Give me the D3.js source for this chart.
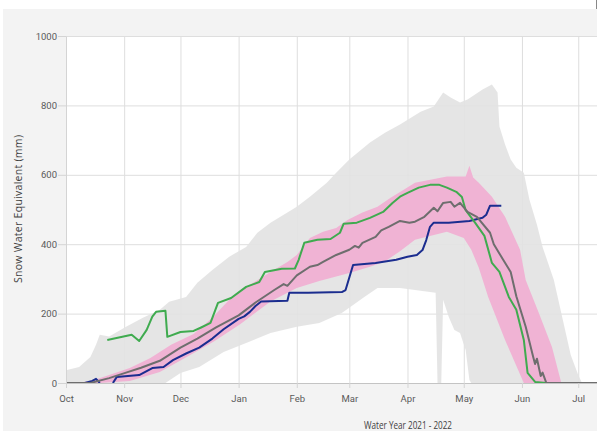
<!DOCTYPE html>
<html>
<head>
<meta charset="utf-8">
<script src="https://cdn.jsdelivr.net/npm/d3@7"></script>
<style>
  body { margin: 0; background: #fff; }
  .tick text { font-family: "Roboto", sans-serif; font-size: 9.5px; fill: #5a5a5a; }
  .lbl { font-family: "Open Sans", sans-serif; fill: #404040; }
</style>
</head>
<body>
<div id="chart"></div>
<script>
// historical max / min snow water equivalent (mm)
const maxSwe = [["2021-10-01",37],["2021-10-08",46],["2021-10-14",75],["2021-10-17",110],["2021-10-19",139],["2021-10-24",134],["2021-11-02",162],["2021-11-11",188],["2021-11-20",211],["2021-11-25",234],["2021-12-04",248],["2021-12-10",289],["2021-12-18",326],["2021-12-27",364],["2022-01-05",392],["2022-01-11",433],["2022-01-18",462],["2022-01-27",491],["2022-02-01",508],["2022-02-08",537],["2022-02-17",577],["2022-02-22",606],["2022-03-01",644],["2022-03-12",693],["2022-03-20",721],["2022-03-28",745],["2022-04-08",782],["2022-04-15",797],["2022-04-20",837],["2022-04-24",823],["2022-04-29",808],["2022-05-03",817],["2022-05-11",846],["2022-05-16",860],["2022-05-19",837],["2022-05-20",739],["2022-05-23",687],["2022-05-26",644],["2022-05-29",620],["2022-06-02",606],["2022-06-05",528],["2022-06-09",456],["2022-06-12",392],["2022-06-18",297],["2022-06-21",225],["2022-06-24",153],["2022-06-27",81],["2022-07-01",23],["2022-07-03",0]];
const minSwe = [["2021-10-01",0],["2021-11-23",0],["2021-12-01",29],["2021-12-11",46],["2021-12-24",89],["2022-01-05",115],["2022-01-18",144],["2022-02-01",162],["2022-02-13",173],["2022-02-25",202],["2022-03-09",248],["2022-03-16",274],["2022-03-28",274],["2022-04-08",266],["2022-04-16",260],["2022-04-17",0],["2022-04-19",0],["2022-04-20",240],["2022-04-23",190],["2022-04-26",153],["2022-04-29",144],["2022-05-02",95],["2022-05-04",9],["2022-05-05",0],["2022-07-03",0]];

// percentile band (pink)
const bandHigh = [["2021-10-01",0],["2021-10-08",0],["2021-10-16",9],["2021-10-24",23],["2021-11-04",43],["2021-11-15",72],["2021-11-26",110],["2021-12-08",141],["2021-12-18",188],["2021-12-27",240],["2022-01-07",283],["2022-01-18",320],["2022-01-27",349],["2022-02-01",369],["2022-02-08",418],["2022-02-15",436],["2022-02-22",447],["2022-02-28",470],["2022-03-08",491],["2022-03-16",508],["2022-03-23",534],["2022-03-30",557],["2022-04-05",577],["2022-04-22",595],["2022-05-02",595],["2022-05-04",626],["2022-05-06",592],["2022-05-09",577],["2022-05-16",537],["2022-05-23",479],["2022-05-31",384],["2022-06-03",297],["2022-06-10",202],["2022-06-17",104],["2022-06-22",0]];
const bandLow = [["2021-10-01",0],["2021-10-19",0],["2021-11-04",6],["2021-11-20",32],["2021-12-06",80],["2021-12-19",120],["2022-01-02",170],["2022-01-18",235],["2022-02-01",274],["2022-02-13",294],["2022-03-01",317],["2022-03-12",335],["2022-03-20",350],["2022-03-28",380],["2022-04-05",413],["2022-04-22",436],["2022-05-01",418],["2022-05-05",384],["2022-05-09",332],["2022-05-14",248],["2022-05-23",124],["2022-06-02",0]];

// median
const median = [["2021-10-01",0],["2021-10-14",0],["2021-10-24",14],["2021-11-02",30],["2021-11-10",44],["2021-11-20",64],["2021-12-01",102],["2021-12-10",128],["2021-12-20",160],["2022-01-01",195],["2022-01-10",232],["2022-01-20",268],["2022-01-25",285],["2022-01-27",280],["2022-02-01",310],["2022-02-08",335],["2022-02-12",340],["2022-02-15",349],["2022-02-22",369],["2022-03-01",384],["2022-03-04",395],["2022-03-06",390],["2022-03-08",404],["2022-03-15",421],["2022-03-18",440],["2022-03-22",450],["2022-03-28",467],["2022-04-02",462],["2022-04-05",465],["2022-04-10",479],["2022-04-15",505],["2022-04-17",495],["2022-04-20",519],["2022-04-24",522],["2022-04-26",508],["2022-04-29",519],["2022-05-03",493],["2022-05-08",479],["2022-05-15",433],["2022-05-17",400],["2022-05-22",355],["2022-05-26",320],["2022-05-29",250],["2022-06-03",162],["2022-06-07",75],["2022-06-08",55],["2022-06-09",70],["2022-06-11",20],["2022-06-12",30],["2022-06-14",0],["2022-07-11",0]];

// two single years
const greenYear = [["2021-10-23",124],["2021-11-05",139],["2021-11-09",121],["2021-11-13",153],["2021-11-16",191],["2021-11-18",205],["2021-11-23",208],["2021-11-24",133],["2021-12-01",147],["2021-12-08",150],["2021-12-12",160],["2021-12-17",173],["2021-12-21",231],["2021-12-28",245],["2022-01-05",277],["2022-01-12",291],["2022-01-15",320],["2022-01-24",329],["2022-01-31",330],["2022-02-02",355],["2022-02-05",404],["2022-02-12",413],["2022-02-19",415],["2022-02-24",433],["2022-02-26",459],["2022-03-05",462],["2022-03-12",476],["2022-03-19",493],["2022-03-24",519],["2022-03-28",537],["2022-04-01",548],["2022-04-07",563],["2022-04-13",571],["2022-04-18",571],["2022-04-22",563],["2022-04-27",551],["2022-04-30",536],["2022-05-02",498],["2022-05-07",462],["2022-05-12",424],["2022-05-16",346],["2022-05-20",320],["2022-05-25",248],["2022-05-29",211],["2022-06-02",124],["2022-06-04",29],["2022-06-08",3],["2022-06-14",0]];
const blueYear = [["2021-10-11",0],["2021-10-15",6],["2021-10-17",12],["2021-10-19",0],["2021-10-21",null],["2021-10-26",0],["2021-10-28",17],["2021-11-03",20],["2021-11-09",23],["2021-11-16",43],["2021-11-22",46],["2021-11-27",66],["2021-12-04",85],["2021-12-11",102],["2021-12-18",128],["2021-12-24",155],["2022-01-01",185],["2022-01-04",192],["2022-01-07",205],["2022-01-10",222],["2022-01-13",235],["2022-01-27",237],["2022-01-28",260],["2022-02-07",260],["2022-02-25",262],["2022-02-27",268],["2022-03-03",340],["2022-03-15",346],["2022-03-26",355],["2022-04-01",364],["2022-04-06",369],["2022-04-09",383],["2022-04-11",412],["2022-04-13",450],["2022-04-15",462],["2022-04-23",462],["2022-05-04",467],["2022-05-11",476],["2022-05-13",485],["2022-05-15",511],["2022-05-21",511]];

const yTicks = [0, 200, 400, 600, 800, 1000];

const W = 597, H = 431;
const plotL = 66, plotR = 597, plotT = 36, plotB = 383;
const parse = d3.timeParse("%Y-%m-%d");

const svg = d3.select("#chart").append("svg").attr("width", W).attr("height", H);

// backgrounds
svg.append("rect").attr("x", 3).attr("y", 9).attr("width", W - 3).attr("height", H - 9).attr("fill", "#f3f3f3");
svg.append("rect").attr("x", plotL).attr("y", plotT).attr("width", plotR - plotL).attr("height", plotB - plotT).attr("fill", "#fff");
svg.append("line").attr("x1", 596.5).attr("x2", 596.5).attr("y1", 0).attr("y2", 9).attr("stroke", "#888");

var x = d3.scaleTime()
    .domain([parse("2021-10-01"), parse("2022-07-11")])
    .range([plotL, plotR]);
var y = d3.scaleLinear().domain([0, 1000]).range([plotB, plotT]);

svg.append("clipPath").attr("id", "clip")
    .append("rect").attr("x", plotL).attr("y", plotT).attr("width", plotR - plotL).attr("height", plotB - plotT);

// gridlines
const grid = svg.append("g").attr("class", "grid");
grid.append("g").attr("transform", `translate(${plotL},0)`)
    .call(d3.axisLeft(y).tickValues(yTicks).tickSize(-(plotR - plotL)).tickFormat(""));
grid.append("g").attr("transform", `translate(0,${plotB})`)
    .call(d3.axisBottom(x).ticks(d3.timeMonth.every(1)).tickSize(-(plotB - plotT)).tickFormat(""));
grid.selectAll(".domain").remove();
grid.selectAll("line").attr("stroke", "#dedede");

const plot = svg.append("g").attr("clip-path", "url(#clip)");

const poly = d3.line().x(d => x(parse(d[0]))).y(d => y(d[1]));
const line = d3.line().defined(d => d[1] != null).x(d => x(parse(d[0]))).y(d => y(d[1]));

// min-max envelope
plot.append("path")
    .attr("d", poly(maxSwe.concat(minSwe.slice().reverse())) + "Z")
    .attr("fill", "#e2e2e2").attr("fill-opacity", 0.9);

// percentile band
plot.append("path")
    .attr("d", poly(bandHigh.concat(bandLow.slice().reverse())) + "Z")
    .attr("fill", "#f0b3d4");

plot.append("path").datum(blueYear).attr("d", line)
    .attr("fill", "none").attr("stroke", "#1b2d8f").attr("stroke-width", 2).attr("stroke-linejoin", "round");
plot.append("path").datum(greenYear).attr("d", line)
    .attr("fill", "none").attr("stroke", "#3fab4f").attr("stroke-width", 2).attr("stroke-linejoin", "round");
plot.append("path").datum(median).attr("d", line)
    .attr("fill", "none").attr("stroke", "#6e6e6e").attr("stroke-width", 2).attr("stroke-linejoin", "round");

// axes
const yAxis = svg.append("g").attr("transform", `translate(${plotL},0)`)
    .call(d3.axisLeft(y).tickValues(yTicks).tickFormat(d3.format("d")).tickSize(8).tickPadding(1).tickSizeOuter(0));
const xAxis = svg.append("g").attr("transform", `translate(0,${plotB})`)
    .call(d3.axisBottom(x).ticks(d3.timeMonth.every(1)).tickFormat(d3.timeFormat("%b"))
        .tickSize(5).tickPadding(7).tickSizeOuter(0));
yAxis.selectAll("line").attr("stroke", "#d4d4d4");
yAxis.select(".domain").attr("stroke", "#d4d4d4");
xAxis.selectAll("line").attr("stroke", "#d4d4d4");
xAxis.select(".domain").attr("stroke", "#c4c4c4");

// labels
svg.append("text").attr("class", "lbl")
    .attr("transform", "translate(22,209) rotate(-90)")
    .attr("text-anchor", "middle")
    .attr("font-size", 10.5)
    .attr("textLength", 148).attr("lengthAdjust", "spacing")
    .text("Snow Water Equivalent (mm)");
svg.append("text").attr("class", "lbl")
    .attr("x", 408).attr("y", 429)
    .attr("text-anchor", "middle")
    .attr("font-size", 10.5)
    .attr("textLength", 88).attr("lengthAdjust", "spacingAndGlyphs")
    .text("Water Year 2021 - 2022");
</script>
</body>
</html>
